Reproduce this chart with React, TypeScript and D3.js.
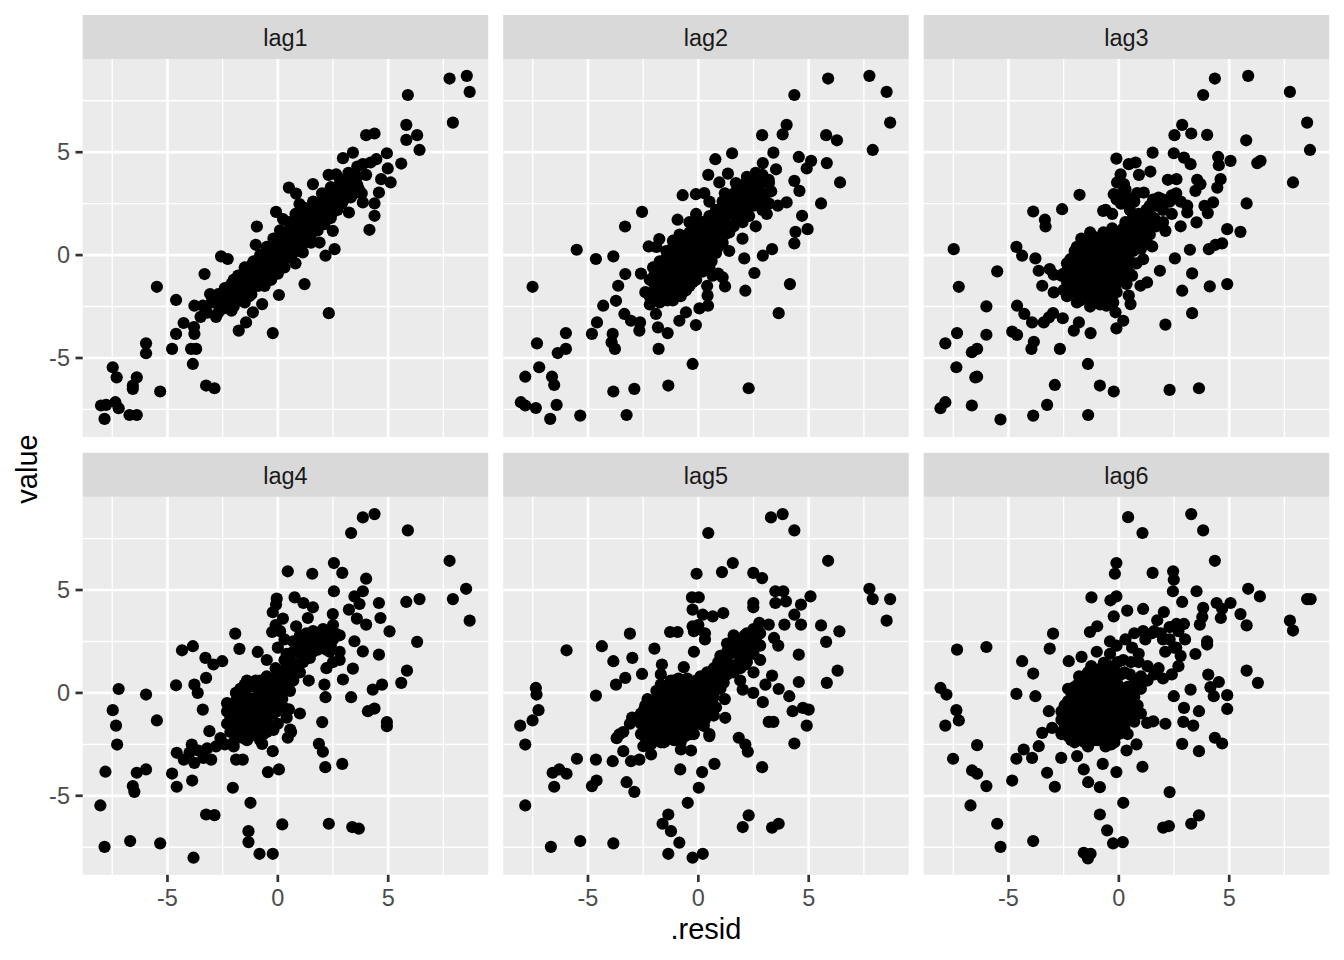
import React from "react";
import * as d3 from "d3";

type P = [number, number];

const LAG_NAMES = ["lag1", "lag2", "lag3", "lag4", "lag5", "lag6"];
const X_TICKS = [-5, 0, 5];
const Y_TICKS = [-5, 0, 5];
const MINOR_TICKS = [-7.5, -2.5, 2.5, 7.5];
const AXIS_DOMAIN: [number, number] = [-8.84, 9.53];

const lag1: P[] = [
  [7.78, 8.58], [8.56, 8.71], [8.69, 7.93], [5.89, 7.78], [7.93, 6.44], [5.82, 6.33], [6.31, 5.83], [5.82, 5.6], [6.42, 5.11], [5.59, 4.45],
  [4.0, 5.83], [4.38, 5.91], [4.94, 4.95], [4.46, 4.66], [4.98, 4.21], [5.11, 3.53], [4.58, 3.04], [4.38, 2.51], [4.38, 1.91], [4.15, 1.23],
  [3.4, 4.98], [2.95, 4.71], [3.85, 4.42], [4.68, 3.69], [3.67, 3.2], [3.85, 2.56], [3.22, 2.07], [2.49, 1.18], [2.57, 0.29], [2.16, -0.03],
  [2.64, 3.93], [1.59, 3.45], [0.5, 3.28], [0.83, 2.99], [0.98, 2.48], [-0.08, 2.1], [0.23, 1.75], [-0.95, 1.39], [1.89, 0.61], [1.13, 0.13],
  [1.21, -1.41], [2.31, -2.82], [-0.23, -3.79], [0.05, -1.94], [-0.71, -2.38], [-1.13, -2.78], [-1.77, -3.67], [-1.44, -3.27], [-2.57, -0.06], [-2.27, -0.19],
  [-3.32, -0.92], [-5.48, -1.54], [-4.61, -2.18], [-3.07, -1.89], [-3.78, -2.46], [-3.4, -2.46], [-4.27, -3.3], [-4.61, -3.83], [-3.78, -3.83], [-4.79, -4.56],
  [-3.93, -4.56], [-3.7, -4.56], [-3.85, -5.29], [-5.97, -4.29], [-5.97, -4.77], [-7.48, -5.45], [-7.3, -5.94], [-6.39, -5.94], [-6.57, -6.34], [-6.57, -6.5],
  [-5.33, -6.63], [-3.25, -6.34], [-2.87, -6.47], [-8.01, -7.31], [-7.78, -7.28], [-7.36, -7.15], [-7.21, -7.44], [-7.85, -7.96], [-6.72, -7.77], [-6.39, -7.77],
  [-3.2, -2.8], [-3.0, -2.3], [-2.8, -3.0], [-2.6, -2.1], [-2.5, -2.6], [-2.3, -1.6], [-2.2, -2.2], [-2.0, -1.2], [-2.0, -2.5], [-1.8, -1.8],
  [-1.7, -1.0], [-1.5, -1.5], [-1.5, -0.6], [-1.3, -2.0], [-1.2, -1.1], [-1.1, -0.3], [-1.0, -0.8], [-0.9, -1.5], [-0.8, 0.0], [-0.7, -0.5],
  [-0.6, -1.1], [-0.5, 0.4], [-0.4, -0.2], [-0.3, -0.8], [-0.2, 0.8], [-0.1, 0.1], [0.0, -0.5], [0.1, 1.2], [0.2, 0.4], [0.3, -0.2],
  [0.4, 0.9], [0.5, 1.6], [0.6, 0.3], [0.7, 1.2], [0.8, 2.0], [0.9, 0.7], [1.0, 1.5], [1.2, 2.3], [1.3, 1.0], [1.4, 1.8],
  [1.6, 2.6], [1.7, 1.4], [1.8, 2.1], [2.0, 3.0], [2.1, 1.7], [2.2, 2.5], [2.4, 3.3], [2.5, 2.1], [2.6, 2.9], [2.8, 3.7],
  [2.9, 2.5], [3.0, 3.2], [3.2, 4.0], [3.3, 2.8], [3.5, 3.5], [3.6, 4.3], [3.8, 3.0], [4.0, 3.9], [4.2, 4.5], [-3.5, -3.0],
  [-3.8, -3.5], [-1.0, 0.5], [0.8, -0.4], [1.5, 0.6], [2.3, 3.9],
];
const lag1Core: P[] = [
  [-2.7, -1.9], [-2.7, -2.4], [-2.7, -2.8], [-2.4, -1.6], [-2.4, -2.0], [-2.4, -2.5], [-2.1, -1.4], [-2.1, -1.8], [-2.1, -2.2], [-2.1, -2.7],
  [-1.8, -1.0], [-1.8, -1.4], [-1.8, -2.2], [-1.5, -0.9], [-1.5, -1.9], [-1.5, -2.3], [-1.2, -0.5], [-1.2, -1.5], [-1.2, -1.9], [-0.9, -0.3],
  [-0.9, -0.7], [-0.9, -1.1], [-0.6, 0.1], [-0.6, -0.3], [-0.6, -0.7], [-0.6, -1.5], [-0.3, 0.3], [-0.3, 0.0], [-0.3, -0.4], [-0.3, -1.2],
  [0.0, 0.8], [0.0, 0.2], [0.0, -0.9], [0.3, 1.0], [0.3, 0.5], [0.3, -0.6], [0.6, 1.3], [0.6, 0.8], [0.6, -0.1], [0.9, 1.6],
  [0.9, 1.1], [0.9, 0.2], [1.2, 1.9], [1.2, 1.3], [1.2, 0.6], [1.5, 2.2], [1.5, 1.6], [1.5, 1.0], [1.8, 2.5], [1.8, 1.7],
  [1.8, 1.2], [2.1, 2.8], [2.1, 2.2], [2.1, 1.5], [2.4, 2.9], [2.4, 2.4], [2.4, 1.8], [2.7, 3.3], [2.7, 2.7], [2.7, 2.2],
  [3.0, 3.6], [3.0, 2.7], [3.3, 3.6], [3.3, 3.2], [3.6, 3.8], [3.6, 3.4],
  [-2.55, -2.0], [-2.55, -2.6], [-2.25, -1.7], [-2.25, -2.3], [-1.95, -1.4], [-1.95, -2.0], [-1.65, -1.2], [-1.65, -1.7], [-1.35, -0.8], [-1.35, -1.4],
  [-1.05, -0.5], [-1.05, -1.1], [-0.75, -0.2], [-0.75, -0.9], [-0.45, 0.1], [-0.45, -0.6], [-0.15, 0.4], [-0.15, -0.3], [0.15, 0.7], [0.15, 0.0],
  [0.45, 1.0], [0.45, 0.3], [0.75, 1.3], [0.75, 0.6], [1.05, 1.6], [1.05, 0.9], [1.35, 1.9], [1.35, 1.2], [1.65, 2.1], [1.65, 1.4],
  [1.95, 2.4], [1.95, 1.8], [2.25, 2.7], [2.25, 2.0], [2.55, 3.0], [2.55, 2.4], [2.85, 3.3], [2.85, 2.9], [3.15, 3.5], [3.15, 2.9],
  [3.45, 3.9], [3.45, 3.0],
];

const lag2: P[] = [
  [7.75, 8.71], [5.88, 8.58], [8.53, 7.93], [4.35, 7.78], [8.69, 6.44], [4.0, 6.33], [3.82, 5.87], [2.89, 5.83], [5.79, 5.83], [6.28, 5.58],
  [7.9, 5.11], [3.4, 4.98], [1.53, 4.95], [0.77, 4.66], [4.55, 4.77], [5.11, 4.58], [4.91, 4.21], [5.82, 4.47], [6.42, 3.53], [5.56, 2.51],
  [1.34, 3.96], [0.45, 3.9], [0.95, 3.53], [2.92, 4.47], [3.52, 4.17], [3.19, 3.66], [4.35, 3.61], [4.58, 3.12], [4.0, 2.56], [4.7, 1.91],
  [4.95, 1.26], [4.4, 1.13], [4.35, 0.57], [3.34, 0.29], [2.92, -0.03], [4.15, -1.41], [3.64, -2.82], [2.28, -6.47], [2.13, -1.73], [2.54, -0.87],
  [-0.26, -5.29], [-1.36, -6.34], [-1.8, -4.56], [-0.11, -3.4], [-0.86, -3.19], [-1.39, -3.79], [-1.83, -3.51], [0.05, -2.59], [0.44, -2.46], [0.42, -1.97],
  [-0.56, -2.78], [-0.71, 2.91], [-0.94, 1.72], [-0.11, 2.96], [0.27, 3.01], [-2.55, 2.1], [-3.32, 1.39], [-2.25, 0.42], [-3.85, -0.06], [-4.64, -0.19],
  [-5.51, 0.26], [-7.51, -1.54], [-3.31, -0.92], [-3.63, -1.49], [-4.31, -2.46], [-3.73, -2.22], [-4.59, -3.27], [-4.82, -3.83], [-3.88, -3.83], [-3.93, -4.24],
  [-3.78, -4.56], [-6.0, -3.79], [-6.0, -4.56], [-7.31, -4.29], [-6.37, -4.76], [-7.21, -5.45], [-7.84, -5.91], [-6.63, -5.91], [-6.53, -6.31], [-3.85, -6.63],
  [-2.9, -6.5], [-8.04, -7.15], [-7.84, -7.31], [-7.36, -7.43], [-6.42, -7.28], [-6.71, -7.96], [-5.35, -7.8], [-3.25, -7.77], [-2.64, -3.27], [-2.67, -3.67],
  [-3.05, -3.19], [-3.35, -2.86], [-1.92, -2.86], [-1.77, 0.78], [0.65, -1.0], [1.1, -1.08], [1.21, -1.52], [2.08, -0.16],
  [-2.0, -1.0], [-1.8, -0.5], [-1.6, -1.5], [-1.5, -0.2], [-1.3, -1.0], [-1.2, 0.3], [-1.0, -0.5], [-1.0, -1.6], [-0.8, 0.6], [-0.7, -0.2],
  [-0.6, -1.0], [-0.5, 0.3], [-0.4, -0.6], [-0.3, 1.0], [-0.2, 0.0], [-0.1, -1.2], [0.0, 0.5], [0.1, -0.4], [0.2, 1.3], [0.3, 0.2],
  [0.5, 0.8], [0.6, -0.3], [0.8, 1.5], [0.9, 0.4], [1.1, 2.0], [1.2, 1.0], [1.5, 2.5], [1.6, 1.4], [1.9, 2.9], [2.0, 2.0],
  [2.3, 3.2], [2.5, 2.4], [2.8, 3.5], [3.0, 2.7], [3.3, 3.1], [-2.4, -1.8], [-2.2, -2.4], [-1.4, -2.2], [-0.8, -2.0], [0.4, -1.5],
  [1.4, 0.2], [2.0, 0.8], [2.6, 1.4], [-0.1, 2.0], [0.5, 2.6], [-2.6, -0.9], [-1.9, 0.4], [1.7, 3.5], [2.2, 3.8], [2.6, 4.0],
  [1.2, 3.0], [3.1, 2.0], [3.6, 2.4], [-0.4, 1.6], [0.9, -0.9],
];
const lag2Core: P[] = [
  [-2.2, -1.2], [-2.2, -2.0], [-1.9, -0.9], [-1.9, -1.5], [-1.9, -2.2], [-1.6, -0.7], [-1.6, -1.1], [-1.6, -1.9], [-1.3, 0.0], [-1.3, -0.5],
  [-1.3, -1.4], [-1.3, -1.8], [-1.0, 0.6], [-1.0, 0.1], [-1.0, -1.0], [-1.0, -2.0], [-0.7, 0.9], [-0.7, 0.3], [-0.7, -0.6], [-0.7, -1.4],
  [-0.7, -1.8], [-0.4, 1.1], [-0.4, 0.6], [-0.4, -0.2], [-0.4, -1.0], [-0.4, -1.5], [-0.1, 1.3], [-0.1, 0.8], [-0.1, 0.3], [-0.1, -0.5],
  [-0.1, -0.9], [0.2, 1.6], [0.2, 0.8], [0.2, -0.1], [0.2, -0.8], [0.5, 1.9], [0.5, 1.3], [0.5, 0.0], [0.5, -0.6], [0.8, 2.2],
  [0.8, 0.9], [0.8, 0.1], [1.1, 2.6], [1.1, 1.5], [1.1, 0.6], [1.4, 2.9], [1.4, 2.0], [1.4, 1.1], [1.7, 3.1], [1.7, 2.3],
  [1.7, 1.8], [2.0, 3.4], [2.0, 2.6], [2.0, 1.6], [2.3, 3.6], [2.3, 2.7], [2.3, 1.9], [2.6, 3.3], [2.6, 2.9], [2.9, 3.9],
  [2.9, 3.0], [2.9, 2.2], [3.2, 2.5], [3.2, 3.5],
  [-2.05, -0.6], [-2.05, -1.3], [-2.05, -1.8], [-1.75, -0.3], [-1.75, -1.0], [-1.75, -1.7], [-1.75, -2.3], [-1.45, 0.2], [-1.45, -0.4], [-1.45, -1.2],
  [-1.45, -1.7], [-1.15, 0.7], [-1.15, -0.2], [-1.15, -0.8], [-1.15, -1.3], [-1.15, -2.2], [-0.85, 1.0], [-0.85, 0.2], [-0.85, -0.3], [-0.85, -1.2],
  [-0.85, -1.6], [-0.55, 0.8], [-0.55, 0.0], [-0.55, -0.7], [-0.55, -1.3], [-0.55, -1.7], [-0.25, 1.3], [-0.25, 0.5], [-0.25, -0.3], [-0.25, -0.8],
  [-0.25, -1.3], [0.05, 1.6], [0.05, 1.0], [0.05, 0.0], [0.05, -0.6], [0.35, 1.1], [0.35, 0.5], [0.35, -0.3], [0.65, 1.6], [0.65, 0.4],
  [0.65, 1.1], [0.95, 1.8], [0.95, 1.2], [0.95, 0.7], [1.25, 2.3], [1.25, 1.5], [1.55, 2.0], [1.55, 2.8], [1.85, 2.5], [1.85, 3.3],
  [2.15, 3.0], [2.15, 2.3], [2.45, 3.5], [2.45, 2.6], [2.75, 2.7], [2.75, 3.2],
];

const lag3: P[] = [
  [5.86, 8.71], [4.35, 8.58], [3.82, 7.78], [7.75, 7.93], [8.53, 6.44], [8.66, 5.11], [7.89, 3.53], [5.77, 5.58], [2.87, 6.33], [2.52, 5.83],
  [3.28, 5.91], [4.0, 5.84], [1.53, 4.98], [2.49, 4.95], [-0.11, 4.69], [0.45, 4.42], [0.76, 4.5], [2.95, 4.74], [3.25, 4.42], [4.5, 4.77],
  [5.06, 4.58], [4.53, 4.37], [6.27, 4.47], [6.42, 4.58], [5.79, 2.51], [5.51, 1.13], [4.91, 1.26], [0.91, 3.9], [1.43, 4.06], [0.08, 3.93],
  [-0.08, 3.53], [0.23, 3.45], [0.83, 3.01], [1.13, 3.04], [2.22, 3.66], [2.61, 3.69], [3.55, 3.66], [3.7, 3.45], [3.47, 3.12], [4.61, 3.69],
  [4.46, 3.28], [4.27, 2.56], [3.88, 2.39], [4.03, 2.04], [3.52, 1.59], [3.1, 2.07], [-0.23, 2.96], [0.26, 2.52], [-1.78, 2.93], [-2.57, 2.23],
  [-3.88, 2.12], [-3.35, 1.72], [-3.32, 1.39], [-0.71, 2.15], [-4.64, 0.4], [-4.38, -0.03], [-3.78, -0.16], [-7.48, 0.29], [-5.51, -0.79], [-7.25, -1.54],
  [-3.63, -0.76], [-3.13, -0.68], [-2.95, -0.95], [-3.47, -1.49], [-2.95, -1.81], [-6.0, -2.49], [-4.61, -2.46], [-4.28, -2.86], [-3.93, -3.27], [-3.4, -3.27],
  [-3.17, -3.03], [-2.98, -2.82], [-2.54, -3.07], [-7.33, -3.79], [-6.0, -3.87], [-7.86, -4.29], [-6.66, -4.72], [-6.42, -4.56], [-4.83, -3.72], [-4.61, -3.88],
  [-3.85, -4.21], [-3.96, -4.56], [-2.67, -4.56], [-7.36, -5.45], [-6.5, -5.94], [-6.42, -5.91], [-8.08, -7.44], [-7.86, -7.15], [-6.66, -7.31], [-5.36, -7.99],
  [-3.88, -7.8], [-3.25, -7.28], [-2.9, -6.31], [-1.4, -5.29], [-0.86, -6.34], [-0.23, -6.63], [-1.39, -7.77], [2.3, -6.55], [3.63, -6.47], [-2.04, -3.67],
  [-1.28, -3.79], [-1.81, -3.27], [-0.11, -3.56], [0.2, -3.19], [-0.15, -2.78], [-0.56, -2.46], [0.45, -1.97], [0.53, -2.38], [2.11, -3.38], [3.32, -2.82],
  [2.87, -1.73], [3.32, -0.89], [4.12, -1.52], [4.91, -1.41], [3.22, 0.26], [2.54, -0.16], [1.86, -0.76], [0.98, -1.49], [1.28, -1.33], [4.08, 0.29],
  [4.38, 0.5], [4.68, 0.57], [2.11, 1.18], [1.51, 0.42],
  [-2.3, -0.5], [-2.2, -1.4], [-2.0, 0.2], [-1.9, -1.0], [-1.8, -2.0], [-1.6, -0.3], [-1.5, -1.5], [-1.4, 0.6], [-1.2, -0.8], [-1.1, -2.2],
  [-1.0, 0.1], [-0.9, -1.3], [-0.8, 0.9], [-0.7, -0.4], [-0.6, -1.8], [-0.5, 0.4], [-0.4, -0.9], [-0.3, 1.3], [-0.2, -0.2], [-0.1, -1.4],
  [0.0, 0.7], [0.2, -0.6], [0.3, 1.6], [0.4, 0.2], [0.6, -1.0], [0.7, 1.0], [0.9, 2.0], [1.0, 0.3], [1.2, 1.4], [1.4, 2.4],
  [1.6, 1.8], [1.8, 2.8], [2.0, 2.2], [2.3, 2.6], [2.6, 3.0], [-1.3, 1.1], [-0.6, 2.2], [0.1, 2.5], [-2.6, -1.0], [-1.7, 0.8],
];
const lag3Core: P[] = [
  [-2.5, -0.9], [-2.5, -1.7], [-2.2, -0.2], [-2.2, -0.9], [-2.2, -1.8], [-1.9, 0.4], [-1.9, -0.5], [-1.9, -1.4], [-1.9, -2.3], [-1.6, 0.2],
  [-1.6, -0.8], [-1.6, -1.9], [-1.3, 0.6], [-1.3, -0.1], [-1.3, -0.6], [-1.3, -1.1], [-1.3, -1.7], [-1.3, -2.5], [-1.0, 0.5], [-1.0, -0.4],
  [-1.0, -0.9], [-1.0, -1.6], [-1.0, -2.0], [-0.7, 1.1], [-0.7, 0.3], [-0.7, -0.9], [-0.7, -1.3], [-0.7, -2.2], [-0.4, 0.8], [-0.4, 0.1],
  [-0.4, -0.5], [-0.4, -1.5], [-0.4, -2.0], [-0.1, 1.0], [-0.1, 0.3], [-0.1, -0.7], [-0.1, -1.8], [0.2, 1.3], [0.2, 0.4], [0.2, -0.2],
  [0.2, -1.1], [0.5, 1.4], [0.5, 0.7], [0.5, -0.3], [0.5, -0.9], [0.8, 1.6], [0.8, 0.5], [0.8, -0.4], [1.1, 1.8], [1.1, 1.1],
  [1.1, -0.2], [1.4, 2.0], [1.4, 1.0], [1.7, 2.4], [1.7, 1.4], [2.0, 2.7], [2.0, 1.6], [2.4, 2.9], [2.4, 2.0], [2.8, 2.6],
  [2.8, 1.4], [3.1, 2.4], [0.0, 2.9], [0.3, 3.2], [0.5, 2.2], [-0.3, 2.0],
  [-2.35, -0.4], [-2.35, -1.3], [-2.35, -2.0], [-2.05, -0.6], [-2.05, -1.1], [-2.05, -1.7], [-1.75, 0.0], [-1.75, -0.6], [-1.75, -1.2], [-1.75, -1.6],
  [-1.75, -2.2], [-1.45, 0.3], [-1.45, -0.2], [-1.45, -0.9], [-1.45, -1.3], [-1.45, -2.0], [-1.15, 0.9], [-1.15, 0.2], [-1.15, -0.4], [-1.15, -1.4],
  [-1.15, -1.9], [-0.85, 0.6], [-0.85, -0.1], [-0.85, -0.6], [-0.85, -1.1], [-0.85, -1.6], [-0.85, -2.4], [-0.55, 0.9], [-0.55, -0.1], [-0.55, -0.7],
  [-0.55, -1.2], [-0.55, -1.6], [-0.25, 0.6], [-0.25, -0.2], [-0.25, -1.1], [-0.25, -1.7], [-0.25, -2.3], [0.05, 1.1], [0.05, 0.1], [0.05, -0.4],
  [0.05, -1.0], [0.35, 0.9], [0.35, -0.1], [0.35, -0.7], [0.35, -1.4], [0.65, 1.9], [0.65, 1.2], [0.65, 0.2], [0.95, 1.4], [0.95, 0.8],
  [1.25, 2.2], [1.25, 0.7], [1.55, 2.7], [1.55, 1.6], [0.2, 3.1], [0.4, 2.8], [0.7, 2.6], [-0.1, 2.7],
];

const lag4: P[] = [
  [4.38, 8.69], [3.85, 8.53], [3.32, 7.77], [5.89, 7.9], [7.78, 6.42], [8.53, 5.06], [7.93, 4.56], [8.69, 3.51], [6.42, 4.56], [5.82, 4.42],
  [6.31, 2.48], [5.85, 1.08], [5.59, 0.49], [2.54, 6.31], [2.92, 5.83], [4.0, 5.55], [0.45, 5.91], [1.56, 5.79], [2.54, 4.94], [3.85, 4.94],
  [3.47, 4.69], [4.58, 4.37], [3.7, 4.32], [3.22, 4.05], [2.49, 3.83], [4.65, 3.64], [5.06, 2.99], [3.58, 3.61], [4.0, 3.32], [4.58, 1.86],
  [3.85, 2.02], [3.47, 2.51], [3.4, 1.18], [4.72, 0.4], [4.3, 0.16], [3.32, -0.21], [4.38, -0.76], [4.08, -0.89], [4.94, -1.42], [4.94, -1.62],
  [2.95, 0.65], [2.11, 0.4], [2.16, -0.21], [2.01, -1.42], [1.86, -2.48], [2.04, -2.86], [2.15, -3.61], [2.92, -3.45], [2.31, -6.36], [3.37, -6.52],
  [3.67, -6.6], [0.2, -6.39], [-0.83, -7.82], [-0.23, -7.82], [-1.33, -6.72], [-1.33, -7.25], [-1.24, -5.34], [-2.04, -4.61], [-0.45, -3.85], [0.05, -3.72],
  [-0.23, -2.83], [-0.71, -2.48], [0.45, -2.18], [0.56, -1.78], [0.83, 3.24], [-0.05, 4.58], [-0.08, 4.29], [-0.23, 3.92], [0.23, 3.61], [0.76, 4.64],
  [1.16, 4.37], [1.59, 4.16], [1.36, 3.64], [-0.26, 2.96], [-0.91, 1.99], [-1.93, 2.88], [-1.74, 2.14], [-3.85, 2.27], [-4.34, 2.07], [-3.28, 1.7],
  [-2.92, 1.38], [-2.52, 1.54], [-3.25, 0.73], [-3.78, 0.4], [-3.63, 0.0], [-4.61, 0.37], [-5.97, -0.08], [-7.21, 0.19], [-7.48, -0.84], [-7.33, -1.59],
  [-5.48, -1.34], [-7.28, -2.51], [-3.4, -0.81], [-3.1, -1.86], [-3.9, -2.51], [-4.58, -2.91], [-4.26, -3.24], [-3.78, -3.4], [-3.37, -3.16], [-3.02, -3.24],
  [-1.89, -3.24], [-1.59, -3.24], [-5.97, -3.72], [-7.81, -3.83], [-6.39, -3.88], [-4.79, -3.92], [-3.88, -4.26], [-4.58, -4.56], [-6.57, -4.53], [-6.5, -4.81],
  [-8.04, -5.47], [-3.25, -5.91], [-2.87, -5.94], [-7.85, -7.48], [-6.69, -7.2], [-5.33, -7.31], [-3.82, -8.01],
  [-2.3, -0.5], [-2.1, -1.3], [-1.9, 0.0], [-1.8, -1.8], [-1.6, -0.8], [-1.5, 0.4], [-1.3, -1.4], [-1.2, -0.3], [-1.1, -2.0], [-1.0, 0.6],
  [-0.9, -0.9], [-0.8, 0.1], [-0.7, -1.6], [-0.6, -0.4], [-0.5, 0.8], [-0.4, -1.1], [-0.3, 0.2], [-0.2, -0.6], [-0.1, 1.2], [0.0, -1.5],
  [0.1, 0.4], [0.2, -0.3], [0.3, 1.6], [0.4, 0.9], [0.5, -0.8], [0.7, 2.0], [0.9, 1.4], [1.1, 2.4], [1.3, 1.8], [1.6, 2.6],
  [1.8, 2.1], [2.1, 2.7], [2.4, 2.3], [2.6, 2.9], [2.8, 2.0], [-2.6, -2.2], [-2.0, -2.6], [0.6, -1.9], [1.0, -1.0], [1.4, 0.6],
  [0.0, 2.2], [-0.5, 1.6], [2.2, 1.2],
];
const lag4Core: P[] = [
  [-2.3, -0.9], [-2.3, -1.5], [-2.0, -0.5], [-2.0, -1.0], [-2.0, -1.6], [-1.7, 0.2], [-1.7, -0.4], [-1.7, -1.2], [-1.7, -2.1], [-1.4, 0.6],
  [-1.4, -0.2], [-1.4, -0.9], [-1.4, -1.8], [-1.4, -2.3], [-1.1, 0.3], [-1.1, -0.6], [-1.1, -1.2], [-1.1, -1.6], [-0.8, 0.6], [-0.8, -0.3],
  [-0.8, -1.1], [-0.8, -1.9], [-0.8, -2.3], [-0.5, 0.3], [-0.5, -0.2], [-0.5, -0.9], [-0.5, -1.4], [-0.5, -1.9], [-0.2, 0.7], [-0.2, 0.0],
  [-0.2, -1.0], [-0.2, -1.8], [0.1, 1.0], [0.1, -0.1], [0.1, -0.7], [0.4, 1.9], [0.4, 1.3], [0.4, 0.3], [0.4, -1.2], [0.7, 2.5],
  [0.7, 1.4], [0.7, 0.6], [1.0, 2.8], [1.0, 1.9], [1.0, 1.0], [1.3, 2.9], [1.3, 2.2], [1.6, 3.0], [1.6, 2.0], [1.9, 2.9],
  [1.9, 2.4], [2.2, 3.0], [2.2, 2.1], [2.5, 3.3], [2.5, 2.6], [2.5, 1.5], [2.8, 2.8], [2.8, 1.6], [0.1, 3.0], [0.3, 2.6],
  [-0.1, 3.3], [-4.0, -2.9], [-3.6, -2.8], [-3.2, -2.7], [-2.8, -2.6], [-2.4, -2.5], [-2.0, -2.4],
  [-2.15, -0.7], [-2.15, -1.2], [-2.15, -1.9], [-1.85, -0.3], [-1.85, -0.8], [-1.85, -1.4], [-1.85, -2.0], [-1.55, 0.1], [-1.55, -0.5], [-1.55, -1.1],
  [-1.55, -1.6], [-1.55, -2.2], [-1.25, 0.3], [-1.25, -0.4], [-1.25, -0.9], [-1.25, -1.6], [-1.25, -2.1], [-0.95, 0.3], [-0.95, -0.2], [-0.95, -0.7],
  [-0.95, -1.4], [-0.95, -2.0], [-0.65, 0.5], [-0.65, -0.1], [-0.65, -0.7], [-0.65, -1.2], [-0.65, -2.0], [-0.35, 0.5], [-0.35, -0.4], [-0.35, -0.8],
  [-0.35, -1.6], [-0.05, 0.4], [-0.05, -0.3], [-0.05, -0.9], [0.25, 0.8], [0.25, 0.1], [0.25, -0.7], [0.55, 1.6], [0.55, 1.0], [0.55, 0.1],
  [0.85, 2.2], [0.85, 1.1], [1.15, 2.6], [1.15, 1.5], [1.45, 2.5], [1.45, 1.7], [1.75, 2.7], [1.75, 2.2], [2.05, 2.4], [2.05, 3.1],
  [2.35, 2.8], [2.35, 2.0],
];

const lag5: P[] = [
  [3.82, 8.69], [3.29, 8.53], [4.35, 7.9], [0.45, 7.77], [5.88, 6.42], [1.56, 6.31], [1.07, 5.87], [-0.08, 5.79], [2.49, 5.83], [2.89, 5.58],
  [7.75, 5.06], [7.9, 4.56], [8.69, 4.56], [8.53, 3.51], [5.08, 4.69], [5.56, 3.28], [6.39, 2.99], [5.79, 2.48], [6.31, 1.08], [5.82, 0.49],
  [4.55, 1.86], [4.55, 0.53], [3.49, 4.94], [3.85, 4.94], [3.97, 4.45], [3.49, 4.37], [4.65, 4.29], [2.49, 4.37], [2.49, 4.16], [4.35, 3.8],
  [3.9, 3.32], [4.65, 3.32], [3.19, 3.32], [2.76, 3.4], [3.43, 2.67], [3.62, 2.3], [-0.29, 4.64], [0.02, 4.64], [-0.26, 4.05], [0.2, 3.8],
  [0.65, 3.72], [1.13, 3.88], [-0.26, 3.24], [-1.28, 2.96], [-0.94, 2.96], [-3.1, 2.88], [-4.37, 2.27], [-5.97, 2.07], [-1.99, 2.15], [-2.99, 1.7],
  [-3.85, 1.54], [-1.65, 1.38], [-0.66, 1.25], [-3.31, 0.73], [-2.55, 0.92], [-3.73, 0.4], [-4.64, -0.13], [-7.36, 0.24], [-7.33, -0.08], [-7.24, -0.84],
  [-7.51, -1.34], [-8.07, -1.59], [-7.84, -2.51], [-5.5, -3.2], [-6.6, -3.88], [-6.3, -3.72], [-5.97, -3.93], [-6.53, -4.56], [-4.82, -4.53], [-4.61, -4.26],
  [-3.25, -4.34], [-2.9, -4.81], [-7.84, -5.47], [-6.68, -7.48], [-5.35, -7.2], [-3.85, -7.31], [-4.64, -3.24], [-3.88, -3.32], [-3.4, -2.83], [-3.05, -3.32],
  [-2.67, -3.24], [-2.14, -2.99], [-2.49, -2.59], [-3.58, -2.02], [-0.82, -3.72], [0.17, -3.85], [0.73, -3.45], [0.02, -4.61], [-0.48, -5.34], [-1.36, -5.91],
  [-1.62, -6.36], [-1.24, -6.72], [-0.86, -7.28], [-1.36, -7.82], [-0.26, -8.01], [0.2, -7.82], [2.28, -5.95], [2.01, -6.52], [3.34, -6.55], [3.64, -6.36],
  [2.89, -3.61], [2.24, -2.86], [2.13, -2.51], [1.83, -2.18], [4.35, -2.46], [3.19, -1.41], [3.4, -1.41], [4.91, -1.59], [4.27, -0.89], [4.74, -0.73],
  [5.0, -0.81], [4.12, -0.16], [3.64, 0.19], [2.92, -0.45], [2.49, 0.0], [2.01, 0.16], [3.04, 0.4], [3.34, 0.84], [2.13, 1.38], [1.22, -1.21],
  [0.5, -2.1], [-0.33, -2.8], [-0.79, -2.75],
  [-2.6, -1.5], [-2.4, -0.6], [-2.2, -2.0], [-2.0, -1.1], [-1.9, 0.1], [-1.8, -1.7], [-1.6, -0.5], [-1.5, -2.2], [-1.4, -1.2], [-1.3, 0.4],
  [-1.2, -0.2], [-1.1, -1.8], [-1.0, -0.9], [-0.9, 0.7], [-0.8, -1.4], [-0.7, -0.3], [-0.6, -2.1], [-0.5, 0.2], [-0.4, -1.0], [-0.3, -0.5],
  [-0.2, -1.6], [-0.1, 0.6], [0.0, -0.8], [0.2, 0.1], [0.3, -1.3], [0.4, 1.0], [0.6, 0.3], [0.8, -0.7], [0.9, 1.5], [1.1, 0.8],
  [1.3, 2.0], [1.5, 1.3], [1.7, 2.4], [1.9, 1.7], [2.1, 2.8], [2.3, 2.2], [2.6, 2.6], [2.8, 1.6], [-0.2, 2.0], [0.3, 2.6],
  [-3.0, -1.2], [-1.7, 0.9], [1.2, -0.3], [0.5, -2.0],
];
const lag5Core: P[] = [
  [-2.6, -1.0], [-2.6, -2.0], [-2.3, -0.3], [-2.3, -1.2], [-2.3, -1.7], [-2.3, -2.4], [-2.0, -0.5], [-2.0, -1.5], [-2.0, -2.1], [-1.7, 0.4],
  [-1.7, -0.9], [-1.7, -1.3], [-1.7, -2.4], [-1.4, 0.0], [-1.4, -0.6], [-1.4, -1.6], [-1.4, -2.0], [-1.1, 0.6], [-1.1, 0.1], [-1.1, -0.5],
  [-1.1, -1.2], [-1.1, -2.3], [-0.8, 0.3], [-0.8, -0.6], [-0.8, -1.0], [-0.8, -1.8], [-0.8, -2.4], [-0.5, 0.7], [-0.5, -0.3], [-0.5, -1.3],
  [-0.5, -1.7], [-0.2, 0.3], [-0.2, -0.2], [-0.2, -1.1], [-0.2, -2.0], [0.1, 0.8], [0.1, -0.4], [0.1, -1.0], [0.1, -1.5], [0.4, 0.5],
  [0.4, -0.3], [0.4, -0.9], [0.7, 1.2], [0.7, 0.7], [0.7, -0.2], [0.7, -1.1], [1.0, 1.8], [1.0, 1.2], [1.0, 0.2], [1.3, 2.4],
  [1.3, 1.5], [1.3, 0.9], [1.6, 2.8], [1.6, 2.0], [1.6, 1.0], [1.9, 2.3], [1.9, 1.2], [1.9, 0.6], [2.2, 2.9], [2.2, 2.5],
  [2.2, 1.5], [2.5, 3.1], [2.5, 1.9], [2.5, 1.0], [2.8, 2.9], [2.8, 2.3], [0.0, 3.3], [-0.2, 3.0], [0.3, 2.9], [-3.7, -2.2],
  [-3.4, -1.9], [-3.1, -1.5],
  [-2.45, -0.8], [-2.45, -1.4], [-2.45, -2.1], [-2.15, -0.6], [-2.15, -1.3], [-2.15, -1.8], [-2.15, -2.5], [-1.85, -0.2], [-1.85, -0.7], [-1.85, -1.2],
  [-1.85, -2.0], [-1.55, 0.2], [-1.55, -0.3], [-1.55, -1.0], [-1.55, -1.4], [-1.55, -2.4], [-1.25, 0.6], [-1.25, -0.1], [-1.25, -0.8], [-1.25, -1.5],
  [-1.25, -2.0], [-0.95, 0.4], [-0.95, -0.3], [-0.95, -1.2], [-0.95, -1.6], [-0.95, -2.1], [-0.65, 0.6], [-0.65, 0.0], [-0.65, -0.8], [-0.65, -1.2],
  [-0.65, -1.8], [-0.35, 0.3], [-0.35, -0.8], [-0.35, -1.4], [-0.35, -2.0], [-0.05, 0.1], [-0.05, -0.5], [-0.05, -1.3], [0.25, 0.5], [0.25, -0.1],
  [0.25, -0.6], [0.25, -1.6], [0.55, 0.9], [0.55, 0.0], [0.55, -0.6], [0.85, 1.0], [0.85, 0.3], [1.15, 1.6], [1.15, 0.5], [1.45, 1.9],
  [1.45, 1.2], [1.75, 2.1], [1.75, 1.4], [2.05, 2.5], [2.05, 1.8],
];

const lag6: P[] = [
  [3.28, 8.69], [0.42, 8.54], [3.82, 7.9], [1.07, 7.77], [4.35, 6.42], [-0.11, 6.31], [-0.18, 5.79], [1.53, 5.83], [2.46, 5.91], [2.49, 5.5],
  [5.86, 5.06], [6.39, 4.69], [8.53, 4.56], [8.69, 4.56], [7.75, 3.51], [7.89, 3.03], [3.52, 4.94], [2.45, 4.94], [2.87, 4.42], [4.43, 4.37],
  [5.06, 4.37], [4.68, 4.09], [3.82, 4.13], [4.62, 3.64], [5.51, 3.83], [5.79, 3.28], [3.78, 3.69], [3.67, 3.32], [2.61, 3.35], [2.95, 3.35],
  [2.04, 3.93], [1.74, 3.53], [1.1, 4.08], [0.38, 4.0], [-0.11, 4.69], [-0.38, 4.5], [-0.23, 3.72], [-1.24, 4.64], [-1.31, 2.96], [-0.98, 3.24],
  [-2.98, 2.88], [-3.13, 2.15], [-6.0, 2.23], [-7.33, 2.1], [-4.38, 1.54], [-3.88, 0.94], [-2.27, 1.54], [-1.69, 1.75], [-0.68, 1.46], [4.0, 2.35],
  [4.0, 2.51], [3.47, 1.89], [5.79, 1.08], [6.3, 0.49], [4.05, 0.89], [4.53, 0.53], [4.15, 0.28], [4.91, -0.11], [4.91, -0.78], [4.3, -0.16],
  [3.25, 0.16], [2.49, -0.16], [3.63, -0.89], [2.95, -0.73], [2.92, -1.41], [3.37, -1.59], [2.11, -1.5], [4.35, -2.18], [4.68, -2.46], [2.87, -2.48],
  [3.63, -2.83], [1.28, -1.46], [1.56, -1.38], [0.35, -2.8], [1.07, -3.59], [-0.11, -3.85], [-0.73, -3.45], [-1.59, -3.72], [-1.39, -4.34], [-0.86, -4.58],
  [2.3, -4.82], [0.2, -5.34], [-0.86, -5.91], [-0.53, -6.68], [-0.26, -7.31], [0.18, -7.25], [-1.59, -7.77], [-1.28, -7.82], [-1.4, -8.04], [2.01, -6.55],
  [2.27, -6.47], [3.28, -6.36], [3.63, -5.95], [-3.88, -7.2], [-5.36, -7.48], [-5.51, -6.36], [-6.72, -5.47], [-6.0, -4.53], [-6.65, -3.77], [-6.42, -3.93],
  [-7.51, -3.2], [-6.42, -2.54], [-7.86, -1.59], [-7.25, -1.34], [-7.36, -0.84], [-8.08, 0.24], [-7.81, -0.08], [-4.64, -0.05], [-3.78, -0.16], [-3.25, -3.88],
  [-2.9, -4.56], [-4.83, -4.26], [-4.64, -3.2], [-3.93, -3.16], [-4.31, -2.75], [-3.63, -2.59], [-2.61, -3.16], [-1.89, -3.07], [-3.47, -1.94], [-3.17, -0.89],
  [-3.02, -1.7],
  [-2.6, -0.9], [-2.5, -1.8], [-2.3, 0.2], [-2.2, -1.2], [-2.0, -2.4], [-1.9, -0.4], [-1.8, 0.8], [-1.7, -1.6], [-1.6, -0.9], [-1.5, 0.3],
  [-1.4, -2.2], [-1.3, -0.2], [-1.2, -1.3], [-1.1, 1.0], [-1.0, -0.6], [-0.9, -1.9], [-0.8, 0.4], [-0.7, -1.1], [-0.6, -2.6], [-0.5, -0.3],
  [-0.4, 1.3], [-0.3, -1.5], [-0.2, 0.6], [-0.1, -0.8], [0.0, -2.0], [0.1, 0.2], [0.2, 1.6], [0.3, -0.5], [0.4, -1.3], [0.5, 0.9],
  [0.6, 2.2], [0.7, -0.2], [0.9, 1.5], [1.0, -1.0], [1.2, 2.6], [1.3, 0.6], [1.6, 3.0], [1.8, 1.2], [2.0, 2.6], [2.3, 3.2],
  [2.5, 2.2], [2.7, 3.0], [3.0, 2.6], [-1.0, 2.0], [-0.4, 2.5], [0.8, -2.5],
];
const lag6Core: P[] = [
  [-2.6, -1.3], [-2.6, -2.0], [-2.3, -0.4], [-2.3, -1.5], [-2.3, -2.1], [-2.0, 0.3], [-2.0, -0.8], [-2.0, -1.3], [-2.0, -1.9], [-1.7, 0.5],
  [-1.7, -0.2], [-1.7, -1.1], [-1.7, -2.2], [-1.4, 1.0], [-1.4, 0.5], [-1.4, -0.6], [-1.4, -1.6], [-1.4, -2.6], [-1.1, 0.4], [-1.1, -0.3],
  [-1.1, -0.9], [-1.1, -1.7], [-1.1, -2.3], [-0.8, 1.2], [-0.8, -0.1], [-0.8, -0.7], [-0.8, -1.5], [-0.8, -2.1], [-0.5, 0.8], [-0.5, 0.2],
  [-0.5, -1.0], [-0.5, -1.8], [-0.5, -2.2], [-0.2, 1.1], [-0.2, 0.0], [-0.2, -1.1], [-0.2, -2.4], [0.1, 0.9], [0.1, -0.4], [0.1, -1.0],
  [0.1, -1.6], [0.4, 0.3], [0.4, -0.8], [0.4, -2.0], [0.7, 0.5], [0.7, -0.9], [0.7, -1.4], [1.0, 0.8], [1.0, 0.2], [-0.4, 1.9],
  [-0.1, 2.3], [0.3, 2.6], [0.7, 2.9], [1.1, 3.0], [1.5, 2.9], [1.9, 2.9], [2.3, 2.6], [2.6, 2.2], [2.8, 1.8], [2.7, 1.3],
  [2.4, 0.9], [2.0, 0.7], [1.6, 0.9], [1.3, 1.3], [2.1, 2.0], [0.9, 1.9],
  [-2.45, -0.6], [-2.45, -1.1], [-2.45, -1.6], [-2.15, 0.0], [-2.15, -0.6], [-2.15, -1.0], [-2.15, -1.7], [-2.15, -2.3], [-1.85, 0.4], [-1.85, -0.1],
  [-1.85, -0.8], [-1.85, -1.4], [-1.85, -2.0], [-1.55, 0.8], [-1.55, 0.0], [-1.55, -0.5], [-1.55, -1.2], [-1.55, -1.8], [-1.55, -2.4], [-1.25, 1.3],
  [-1.25, 0.7], [-1.25, 0.2], [-1.25, -0.5], [-1.25, -1.0], [-1.25, -1.8], [-1.25, -2.2], [-0.95, 0.8], [-0.95, 0.1], [-0.95, -0.3], [-0.95, -1.2],
  [-0.95, -1.6], [-0.95, -2.3], [-0.65, 1.0], [-0.65, 0.6], [-0.65, -0.4], [-0.65, -0.9], [-0.65, -1.4], [-0.65, -2.0], [-0.35, 0.7], [-0.35, 0.1],
  [-0.35, -0.6], [-0.35, -1.2], [-0.35, -1.9], [-0.35, -2.5], [-0.05, 1.5], [-0.05, 0.4], [-0.05, -0.4], [-0.05, -1.3], [-0.05, -1.8], [0.25, 1.0],
  [0.25, -0.1], [0.25, -0.9], [0.25, -1.7], [0.55, 1.5], [0.55, 0.2], [0.55, -0.5], [0.55, -1.0], [0.85, 0.5], [0.85, -0.6],
];

const SERIES: P[][] = [
  lag1.concat(lag1Core),
  lag2.concat(lag2Core),
  lag3.concat(lag3Core),
  lag4.concat(lag4Core),
  lag5.concat(lag5Core),
  lag6.concat(lag6Core),
];

const FONT = "'Liberation Sans', Arial, Helvetica, sans-serif";

export default function App() {
  const width = 1344;
  const height = 960;
  const left0 = 82.7;
  const panelW = 405.5;
  const colGap = 15;
  const top0 = 15;
  const stripH = 44;
  const panelH = 378;
  const rowGap = 15.8;
  const tickLen = 7.2;

  const panels = LAG_NAMES.map((name, i) => {
    const col = i % 3;
    const row = Math.floor(i / 3);
    const x0 = left0 + col * (panelW + colGap);
    const stripTop = top0 + row * (stripH + panelH + rowGap);
    const y0 = stripTop + stripH;
    const x = d3.scaleLinear().domain(AXIS_DOMAIN).range([x0, x0 + panelW]);
    const y = d3.scaleLinear().domain(AXIS_DOMAIN).range([y0 + panelH, y0]);
    return { name, col, row, x0, stripTop, y0, x, y, data: SERIES[i] };
  });

  const allLeft = left0;
  const allRight = left0 + 3 * panelW + 2 * colGap;

  return (
    <svg width={width} height={height} style={{ display: "block", margin: "-8px" }} fontFamily={FONT}>
      <rect x={0} y={0} width={width} height={height} fill="#FFFFFF" />
      {panels.map((p) => (
        <g key={p.name}>
          <rect x={p.x0} y={p.y0} width={panelW} height={panelH} fill="#EBEBEB" />
          {MINOR_TICKS.map((t) => (
            <g key={"m" + t}>
              <line x1={p.x(t)} x2={p.x(t)} y1={p.y0} y2={p.y0 + panelH} stroke="#FFFFFF" strokeWidth={1.35} />
              <line x1={p.x0} x2={p.x0 + panelW} y1={p.y(t)} y2={p.y(t)} stroke="#FFFFFF" strokeWidth={1.35} />
            </g>
          ))}
          {X_TICKS.map((t) => (
            <line key={"vx" + t} x1={p.x(t)} x2={p.x(t)} y1={p.y0} y2={p.y0 + panelH} stroke="#FFFFFF" strokeWidth={2.7} />
          ))}
          {Y_TICKS.map((t) => (
            <line key={"hy" + t} x1={p.x0} x2={p.x0 + panelW} y1={p.y(t)} y2={p.y(t)} stroke="#FFFFFF" strokeWidth={2.7} />
          ))}
          {p.data.map((d, j) => (
            <circle key={j} cx={p.x(d[0])} cy={p.y(d[1])} r={6.1} fill="#000000" />
          ))}
          <rect x={p.x0} y={p.stripTop} width={panelW} height={stripH} fill="#D9D9D9" />
          <text x={p.x0 + panelW / 2} y={p.stripTop + stripH / 2 + 9} textAnchor="middle" fontSize={23.5} fill="#1A1A1A">
            {p.name}
          </text>
          {p.row === 1 &&
            X_TICKS.map((t) => (
              <g key={"xt" + t}>
                <line x1={p.x(t)} x2={p.x(t)} y1={p.y0 + panelH} y2={p.y0 + panelH + tickLen} stroke="#333333" strokeWidth={2.7} />
                <text x={p.x(t)} y={p.y0 + panelH + 31} textAnchor="middle" fontSize={23.5} fill="#4D4D4D">
                  {t}
                </text>
              </g>
            ))}
          {p.col === 0 &&
            Y_TICKS.map((t) => (
              <g key={"yt" + t}>
                <line x1={p.x0 - tickLen} x2={p.x0} y1={p.y(t)} y2={p.y(t)} stroke="#333333" strokeWidth={2.7} />
                <text x={p.x0 - tickLen - 5.5} y={p.y(t)} dy="0.35em" textAnchor="end" fontSize={23.5} fill="#4D4D4D">
                  {t}
                </text>
              </g>
            ))}
        </g>
      ))}
      <text x={(allLeft + allRight) / 2} y={939} textAnchor="middle" fontSize={29} fill="#000000">
        .resid
      </text>
      <text transform={`translate(36.5, 469) rotate(-90)`} textAnchor="middle" fontSize={29} fill="#000000">
        value
      </text>
    </svg>
  );
}
